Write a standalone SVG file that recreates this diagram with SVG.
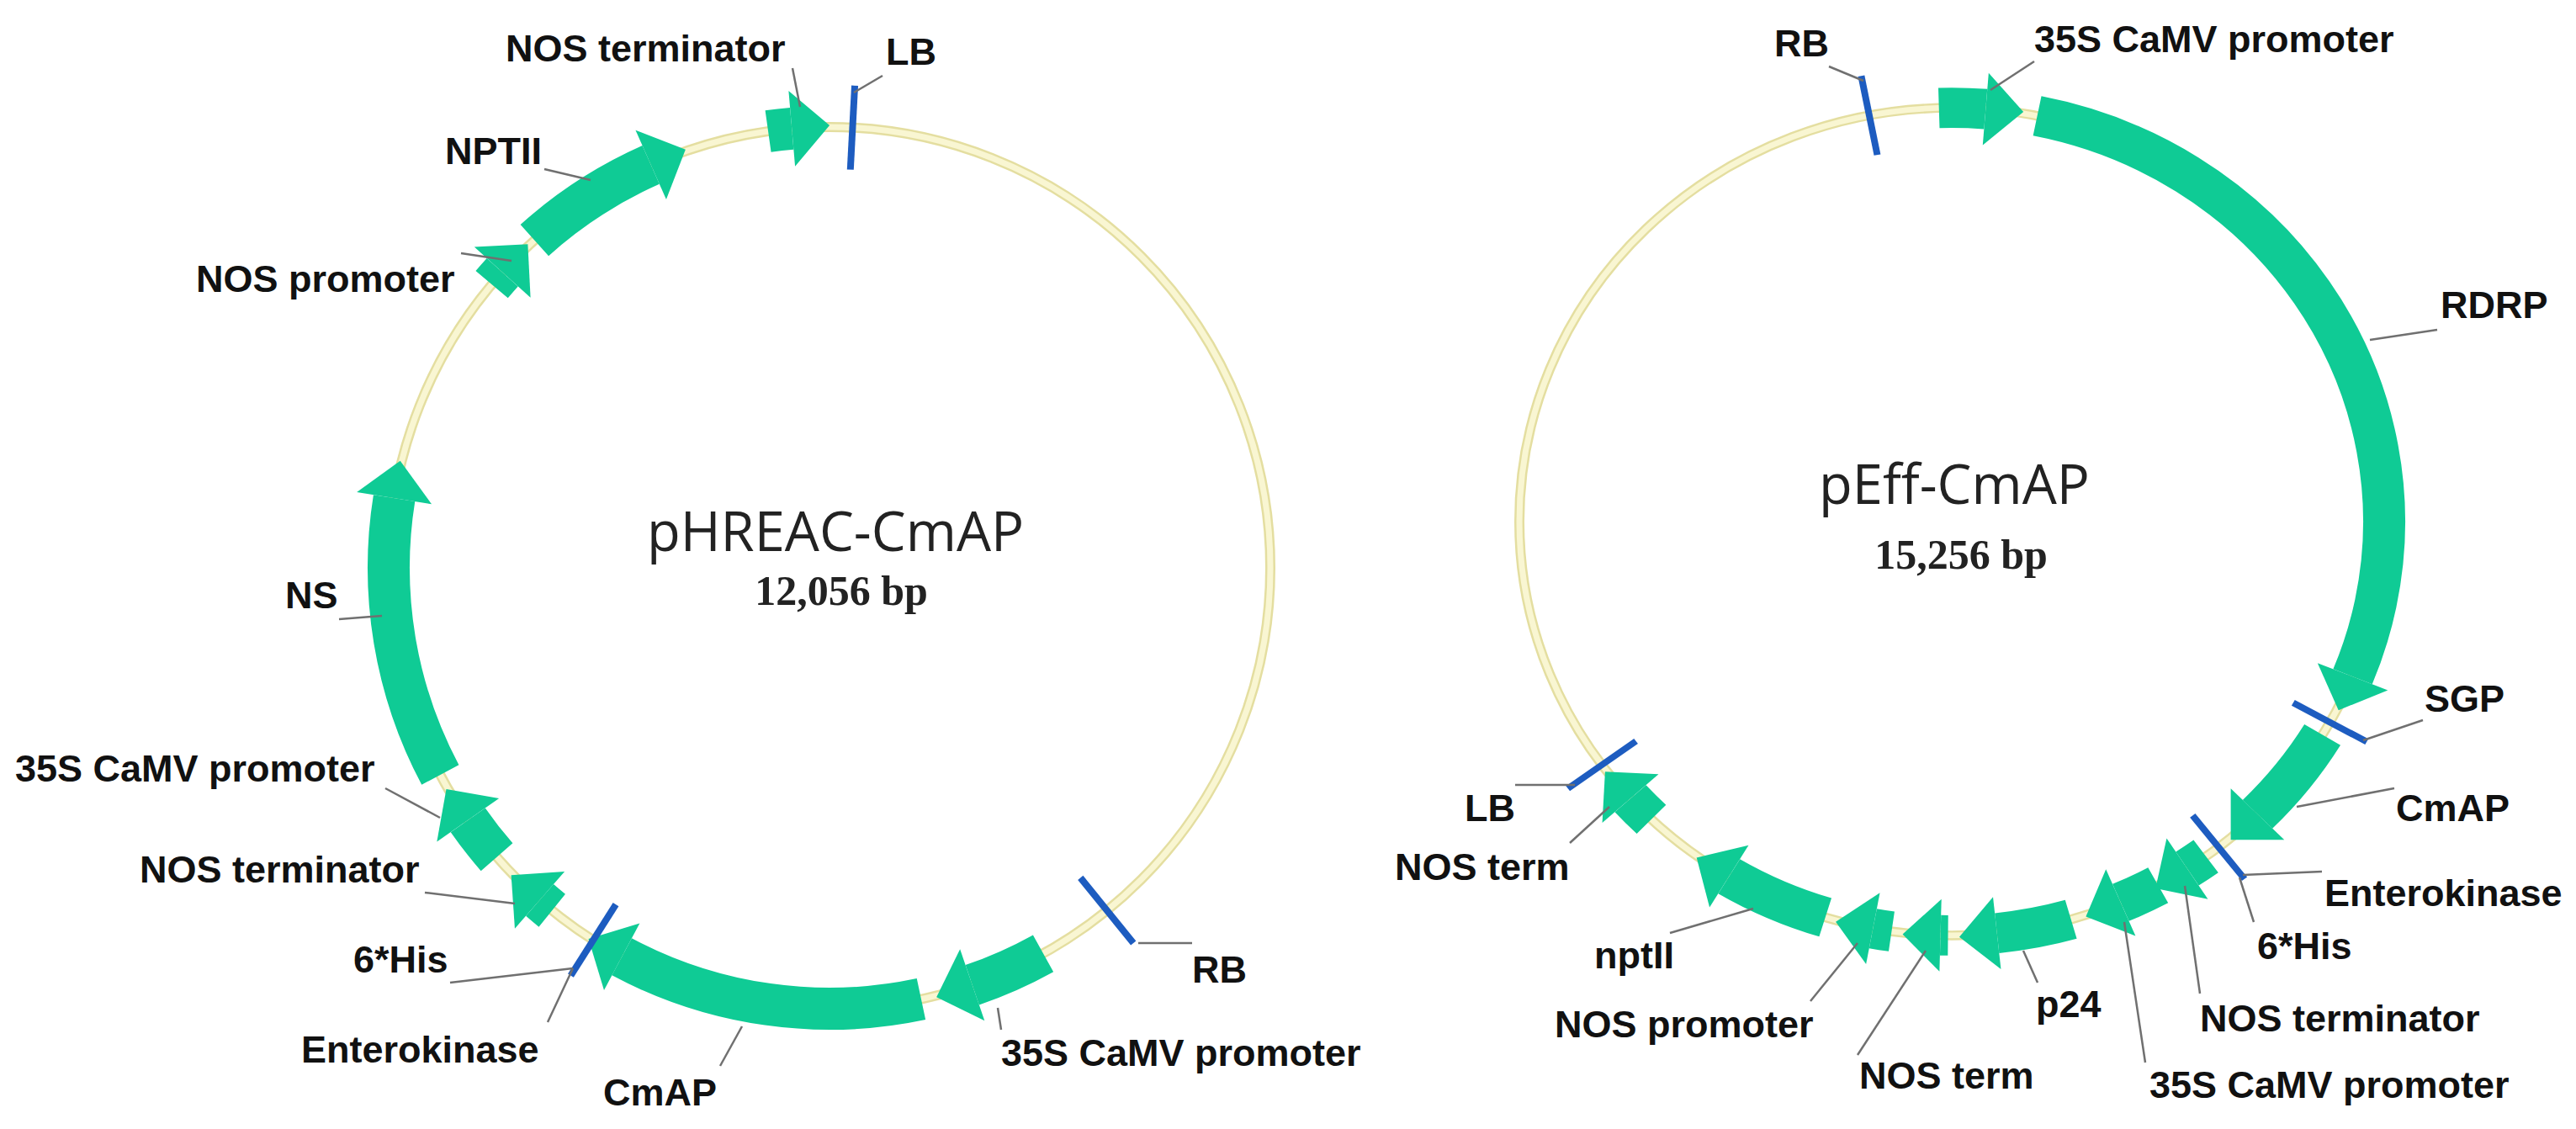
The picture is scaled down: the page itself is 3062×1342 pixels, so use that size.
<svg xmlns="http://www.w3.org/2000/svg" width="3062" height="1342" viewBox="0 0 3062 1342">
<style>
.ringo{fill:none;stroke:#e4dea0;stroke-width:12}
.ringi{fill:none;stroke:#f9f6d2;stroke-width:7}
.body{fill:none;stroke:#0fcb95;stroke-width:50}
.head{fill:#0fcb95}
.tick{stroke:#1d5cc0;stroke-width:8}
.lead{stroke:#707070;stroke-width:2.5;fill:none}
.lbl{font-family:"Liberation Sans",Arial,sans-serif;font-weight:bold;font-size:45px;fill:#111}
.ttl{font-family:"Open Sans","Noto Sans",sans-serif;font-size:65px;fill:#222}
.bp{font-family:"Liberation Serif","Times New Roman",serif;font-weight:bold;font-size:50px;fill:#222}
</style>
<rect width="3062" height="1342" fill="#fff"/>

<g id="pHREAC" transform="translate(986,675)">
  <circle class="ringo" r="524"/><circle class="ringi" r="524"/>
  <g id="L_nosterm1"><circle class="body" r="524" pathLength="360" stroke-dasharray="3.1 360" transform="rotate(-98)"/><polygon class="head" points="0,-569 0,-479 45,-524" transform="rotate(-4.9)"/></g>
  <g id="L_nptII"><circle class="body" r="524" pathLength="360" stroke-dasharray="18.1 360" transform="rotate(-132)"/><polygon class="head" points="0,-569 0,-479 45,-524" transform="rotate(-23.9)"/></g>
  <g id="L_nosprom"><circle class="body" r="524" pathLength="360" stroke-dasharray="2.1 360" transform="rotate(-140)"/><polygon class="head" points="0,-569 0,-479 45,-524" transform="rotate(-47.9)"/></g>
  <g id="L_ns"><circle class="body" r="524" pathLength="360" stroke-dasharray="37.1 360" transform="rotate(-208)"/><polygon class="head" points="0,-569 0,-479 45,-524" transform="rotate(-80.9)"/></g>
  <g id="L_35s1"><circle class="body" r="524" pathLength="360" stroke-dasharray="6.1 360" transform="rotate(-221)"/><polygon class="head" points="0,-569 0,-479 45,-524" transform="rotate(-124.9)"/></g>
  <g id="L_nosterm2"><circle class="body" r="524" pathLength="360" stroke-dasharray="2.1 360" transform="rotate(-231)"/><polygon class="head" points="0,-569 0,-479 45,-524" transform="rotate(-138.9)"/></g>
  <g id="L_cmap"><circle class="body" r="524" pathLength="360" stroke-dasharray="40.1 360" transform="rotate(78)"/><polygon class="head" points="0,-569 0,-479 45,-524" transform="rotate(208.1)"/></g>
  <g id="L_35s2"><circle class="body" r="524" pathLength="360" stroke-dasharray="10.1 360" transform="rotate(61)"/><polygon class="head" points="0,-569 0,-479 45,-524" transform="rotate(161.1)"/></g>
  <g id="L_LB"><line class="tick" x1="0" y1="-574" x2="0" y2="-474" transform="rotate(3)"/></g>
  <g id="L_His"><line class="tick" x1="0" y1="-574" x2="0" y2="-474" transform="rotate(-147.6)"/></g>
  <g id="L_RB"><line class="tick" x1="0" y1="-574" x2="0" y2="-474" transform="rotate(141)"/></g>
</g>

<g id="pEff" transform="translate(2320,620) scale(1,0.957)">
  <circle class="ringo" r="514"/><circle class="ringi" r="514"/>
  <g id="R_35s1"><circle class="body" r="514" pathLength="360" stroke-dasharray="6.2 360" transform="rotate(-91.7)"/><polygon class="head" points="0,-559 0,-469 45,-514" transform="rotate(4.5)"/></g>
  <g id="R_rdrp"><circle class="body" r="514" pathLength="360" stroke-dasharray="100.6 360" transform="rotate(-78.6)"/><polygon class="head" points="0,-559 0,-469 45,-514" transform="rotate(112)"/></g>
  <g id="R_cmap"><circle class="body" r="514" pathLength="360" stroke-dasharray="14 360" transform="rotate(31)"/><polygon class="head" points="0,-559 0,-469 45,-514" transform="rotate(135)"/></g>
  <g id="R_nosterminator"><circle class="body" r="514" pathLength="360" stroke-dasharray="3 360" transform="rotate(54)"/><polygon class="head" points="0,-559 0,-469 45,-514" transform="rotate(147)"/></g>
  <g id="R_35s2"><circle class="body" r="514" pathLength="360" stroke-dasharray="5.5 360" transform="rotate(61.5)"/><polygon class="head" points="0,-559 0,-469 45,-514" transform="rotate(157)"/></g>
  <g id="R_p24"><circle class="body" r="514" pathLength="360" stroke-dasharray="10 360" transform="rotate(74)"/><polygon class="head" points="0,-559 0,-469 45,-514" transform="rotate(174)"/></g>
  <g id="R_nosterm1"><circle class="body" r="514" pathLength="360" stroke-dasharray="1 360" transform="rotate(90.5)"/><polygon class="head" points="0,-559 0,-469 45,-514" transform="rotate(181.5)"/></g>
  <g id="R_nosprom"><circle class="body" r="514" pathLength="360" stroke-dasharray="2.5 360" transform="rotate(98)"/><polygon class="head" points="0,-559 0,-469 45,-514" transform="rotate(190.5)"/></g>
  <g id="R_nptII"><circle class="body" r="514" pathLength="360" stroke-dasharray="14 360" transform="rotate(107)"/><polygon class="head" points="0,-559 0,-469 45,-514" transform="rotate(211)"/></g>
  <g id="R_nosterm2"><circle class="body" r="514" pathLength="360" stroke-dasharray="4 360" transform="rotate(134)"/><polygon class="head" points="0,-559 0,-469 45,-514" transform="rotate(228)"/></g>
  <g id="R_RB"><line class="tick" x1="0" y1="-564" x2="0" y2="-464" transform="rotate(-11)"/></g>
  <g id="R_SGP"><line class="tick" x1="0" y1="-564" x2="0" y2="-464" transform="rotate(119)"/></g>
  <g id="R_His"><line class="tick" x1="0" y1="-564" x2="0" y2="-464" transform="rotate(141.9)"/></g>
  <g id="R_LB"><line class="tick" x1="0" y1="-564" x2="0" y2="-464" transform="rotate(234)"/></g>
</g>

<g id="connectors" class="lead">
  <line x1="942" y1="81" x2="951" y2="127"/>
  <line x1="1015" y1="110" x2="1049" y2="90"/>
  <line x1="647" y1="201" x2="702" y2="214"/>
  <line x1="548" y1="301" x2="608" y2="310"/>
  <line x1="403" y1="736" x2="454" y2="732"/>
  <line x1="458" y1="937" x2="523" y2="972"/>
  <line x1="505" y1="1061" x2="612" y2="1074"/>
  <line x1="535" y1="1168" x2="681" y2="1151"/>
  <line x1="651" y1="1215" x2="681" y2="1151"/>
  <line x1="856" y1="1267" x2="882" y2="1220"/>
  <line x1="1190" y1="1224" x2="1186" y2="1198"/>
  <line x1="1353" y1="1121" x2="1417" y2="1121"/>
  <line x1="2174" y1="79" x2="2215" y2="96"/>
  <line x1="2418" y1="73" x2="2366" y2="107"/>
  <line x1="2897" y1="392" x2="2817" y2="404"/>
  <line x1="2880" y1="856" x2="2809" y2="880"/>
  <line x1="2846" y1="937" x2="2730" y2="959"/>
  <line x1="2760" y1="1036" x2="2666" y2="1040"/>
  <line x1="2679" y1="1096" x2="2662" y2="1043"/>
  <line x1="2615" y1="1181" x2="2597" y2="1053"/>
  <line x1="2550" y1="1263" x2="2525" y2="1096"/>
  <line x1="2422" y1="1168" x2="2405" y2="1130"/>
  <line x1="2208" y1="1254" x2="2289" y2="1130"/>
  <line x1="2152" y1="1190" x2="2208" y2="1121"/>
  <line x1="1985" y1="1109" x2="2084" y2="1080"/>
  <line x1="1801" y1="933" x2="1872" y2="933"/>
  <line x1="1866" y1="1002" x2="1913" y2="959"/>
</g>

<g id="labels">
  <text class="ttl" x="993" y="655" text-anchor="middle">pHREAC-CmAP</text>
  <text class="bp" x="1000" y="719" text-anchor="middle">12,056 bp</text>
  <text class="lbl" x="601" y="73">NOS terminator</text>
  <text class="lbl" x="1053" y="77">LB</text>
  <text class="lbl" x="529" y="195">NPTII</text>
  <text class="lbl" x="233" y="347">NOS promoter</text>
  <text class="lbl" x="339" y="723">NS</text>
  <text class="lbl" x="18" y="929">35S CaMV promoter</text>
  <text class="lbl" x="166" y="1049">NOS terminator</text>
  <text class="lbl" x="420" y="1156">6*His</text>
  <text class="lbl" x="358" y="1263">Enterokinase</text>
  <text class="lbl" x="717" y="1314">CmAP</text>
  <text class="lbl" x="1190" y="1267">35S CaMV promoter</text>
  <text class="lbl" x="1417" y="1168">RB</text>

  <text class="ttl" x="2323" y="599" text-anchor="middle">pEff-CmAP</text>
  <text class="bp" x="2331" y="676" text-anchor="middle">15,256 bp</text>
  <text class="lbl" x="2109" y="67">RB</text>
  <text class="lbl" x="2418" y="62">35S CaMV promoter</text>
  <text class="lbl" x="2901" y="378">RDRP</text>
  <text class="lbl" x="2882" y="846">SGP</text>
  <text class="lbl" x="2848" y="976">CmAP</text>
  <text class="lbl" x="2763" y="1077">Enterokinase</text>
  <text class="lbl" x="2683" y="1140">6*His</text>
  <text class="lbl" x="2615" y="1226">NOS terminator</text>
  <text class="lbl" x="2555" y="1305">35S CaMV promoter</text>
  <text class="lbl" x="2420" y="1209">p24</text>
  <text class="lbl" x="2210" y="1294">NOS term</text>
  <text class="lbl" x="1848" y="1233">NOS promoter</text>
  <text class="lbl" x="1895" y="1151">nptII</text>
  <text class="lbl" x="1741" y="976">LB</text>
  <text class="lbl" x="1658" y="1046">NOS term</text>
</g>
</svg>
